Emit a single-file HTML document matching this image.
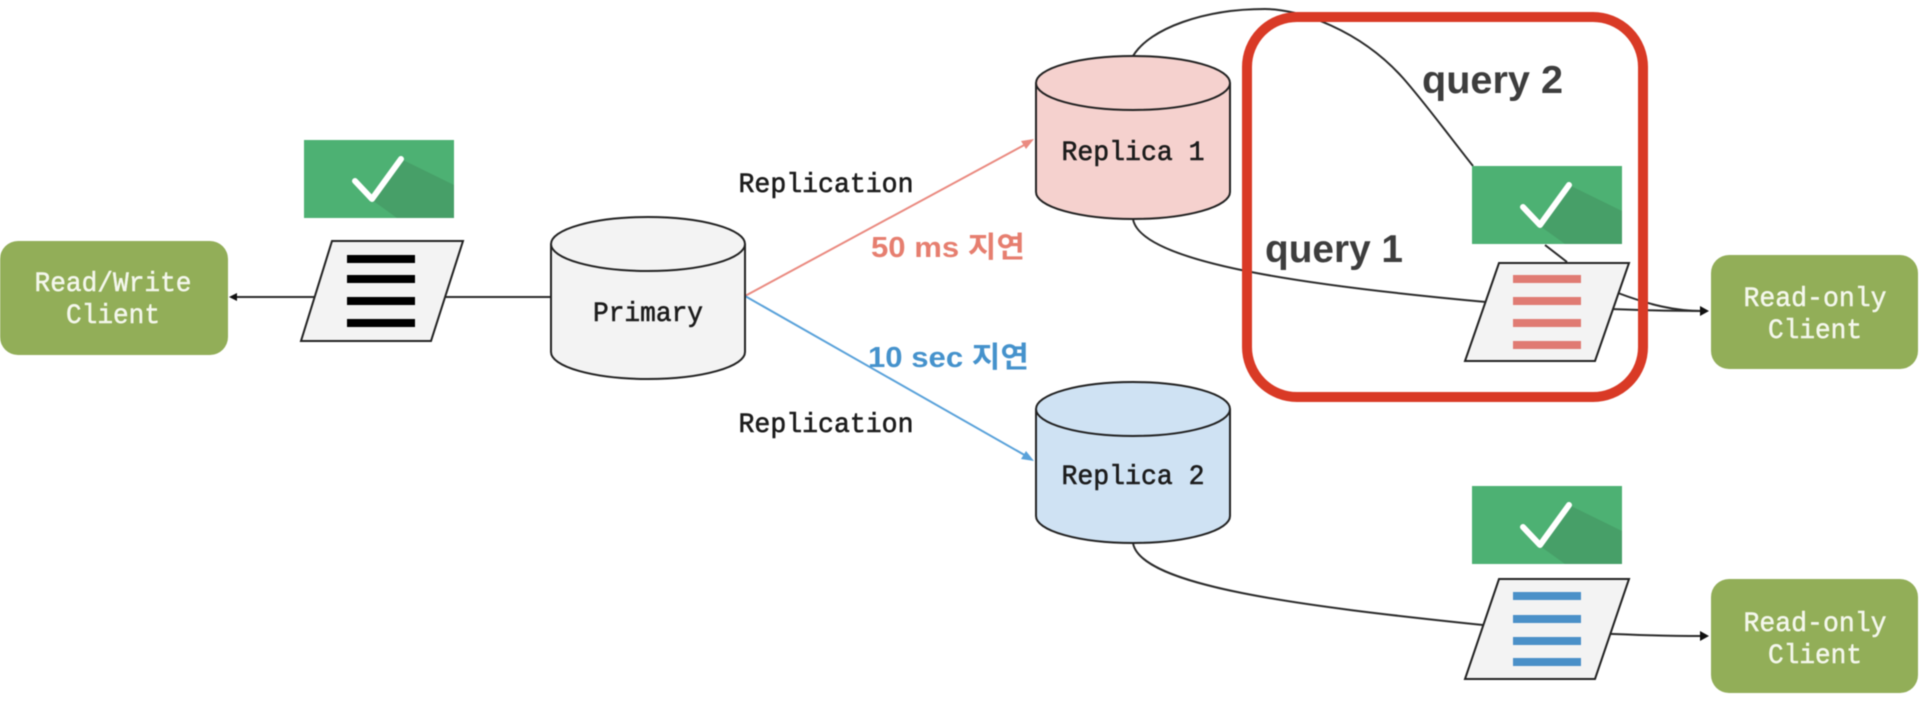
<!DOCTYPE html>
<html>
<head>
<meta charset="utf-8">
<style>
html,body{margin:0;padding:0;background:#fff;width:1922px;height:720px;overflow:hidden}
svg{display:block;filter:blur(0.5px)}
.m{font-family:"Liberation Mono",monospace;font-size:28px}
.w{fill:#f4f7ec;stroke:#f4f7ec;stroke-width:.5;text-anchor:middle}
.k{fill:#1c1c1c;stroke:#1c1c1c;stroke-width:.6;text-anchor:middle}
.s{font-family:"Liberation Sans","Noto Sans CJK KR",sans-serif;font-weight:bold}
.c{fill:none;stroke:#2b2b2b;stroke-width:2}
</style>
</head>
<body>
<svg width="1922" height="720" viewBox="0 0 1922 720" xmlns="http://www.w3.org/2000/svg">
  <defs>
    <g id="ok">
      <rect width="150" height="78" fill="#4db173"/>
      <polygon points="97,19 150,45 150,78 93,78 68,60" fill="#479f68"/>
      <polyline points="51,41 68,59 97,19" fill="none" stroke="#fff" stroke-width="6" stroke-linecap="round" stroke-linejoin="round"/>
    </g>
  </defs>

  <!-- connectors -->
  <path d="M551 297H236" class="c"/>
  <polygon points="229,297 237,293 237,301" fill="#111"/>
  <path d="M745 296L1028 143" fill="none" stroke="#ea8a80" stroke-width="2"/>
  <polygon points="1034,139 1026,149 1021,141" fill="#ea8a80"/>
  <path d="M745 296L1028 457" fill="none" stroke="#5aa2da" stroke-width="2"/>
  <polygon points="1034,461 1021,459 1026,451" fill="#5aa2da"/>

  <path d="M1133 56C1150 28 1205 9 1265 9C1300 9 1360 30 1403 78C1425 103 1450 137 1473 166" class="c"/>
  <path d="M1545 245L1567 262" class="c"/>
  <path d="M1618 293C1650 305 1675 311 1702 311" class="c"/>
  <path d="M1133 219C1140 262 1300 285 1486 302C1550 307 1640 311 1702 311" class="c"/>
  <polygon points="1709,311 1700,306 1700,316" fill="#111"/>
  <path d="M1133 543C1140 586 1300 606 1483 625C1550 632 1640 636 1702 636" class="c"/>
  <polygon points="1709,636 1700,631 1700,641" fill="#111"/>

  <!-- clients -->
  <rect x="0" y="241" width="228" height="114" rx="18" fill="#92ae58"/>
  <rect x="1711" y="255" width="207" height="114" rx="18" fill="#92ae58"/>
  <rect x="1711" y="579" width="207" height="114" rx="18" fill="#92ae58"/>
  <text class="m w" x="113" y="291" textLength="157" lengthAdjust="spacingAndGlyphs">Read/Write</text>
  <text class="m w" x="113" y="323" textLength="94" lengthAdjust="spacingAndGlyphs">Client</text>
  <text class="m w" x="1815" y="306" textLength="143" lengthAdjust="spacingAndGlyphs">Read-only</text>
  <text class="m w" x="1815" y="338" textLength="94" lengthAdjust="spacingAndGlyphs">Client</text>
  <text class="m w" x="1815" y="631" textLength="143" lengthAdjust="spacingAndGlyphs">Read-only</text>
  <text class="m w" x="1815" y="663" textLength="94" lengthAdjust="spacingAndGlyphs">Client</text>

  <!-- cylinders -->
  <path d="M551 244A97 27 0 0 1 745 244V352A97 27 0 0 1 551 352Z" fill="#f3f3f3" stroke="#222" stroke-width="2"/>
  <path d="M551 244A97 27 0 0 0 745 244" fill="none" stroke="#222" stroke-width="2"/>
  <text class="m k" x="648" y="321" textLength="110" lengthAdjust="spacingAndGlyphs">Primary</text>

  <path d="M1036 83A97 27 0 0 1 1230 83V192A97 27 0 0 1 1036 192Z" fill="#f5d1ce" stroke="#222" stroke-width="2"/>
  <path d="M1036 83A97 27 0 0 0 1230 83" fill="none" stroke="#222" stroke-width="2"/>
  <text class="m k" x="1133" y="160" textLength="143" lengthAdjust="spacingAndGlyphs">Replica 1</text>

  <path d="M1036 409A97 27 0 0 1 1230 409V516A97 27 0 0 1 1036 516Z" fill="#cfe2f3" stroke="#222" stroke-width="2"/>
  <path d="M1036 409A97 27 0 0 0 1230 409" fill="none" stroke="#222" stroke-width="2"/>
  <text class="m k" x="1133" y="484" textLength="143" lengthAdjust="spacingAndGlyphs">Replica 2</text>

  <!-- green check boxes -->
  <use href="#ok" x="304" y="140"/>
  <use href="#ok" x="1472" y="166"/>
  <use href="#ok" x="1472" y="486"/>

  <!-- papers -->
  <polygon points="332,241 463,241 431,341 301,341" fill="#f3f3f3" stroke="#222" stroke-width="2"/>
  <g fill="#000">
    <rect x="347" y="255" width="68" height="8"/>
    <rect x="347" y="275" width="68" height="8"/>
    <rect x="347" y="297" width="68" height="8"/>
    <rect x="347" y="319" width="68" height="8"/>
  </g>

  <polygon points="1499,263 1629,263 1595,361 1465,361" fill="#f3f3f3" stroke="#222" stroke-width="2"/>
  <g fill="#e07b73">
    <rect x="1513" y="275" width="68" height="8"/>
    <rect x="1513" y="297" width="68" height="8"/>
    <rect x="1513" y="319" width="68" height="8"/>
    <rect x="1513" y="341" width="68" height="8"/>
  </g>

  <polygon points="1499,579 1629,579 1595,679 1465,679" fill="#f3f3f3" stroke="#222" stroke-width="2"/>
  <g fill="#4a90c8">
    <rect x="1513" y="592" width="68" height="8"/>
    <rect x="1513" y="615" width="68" height="8"/>
    <rect x="1513" y="637" width="68" height="8"/>
    <rect x="1513" y="658" width="68" height="8"/>
  </g>

  <!-- red highlight -->
  <rect x="1247" y="17" width="396" height="380" rx="50" fill="none" stroke="#d93a26" stroke-width="10"/>

  <!-- labels -->
  <text class="m k" x="826" y="192" textLength="175" lengthAdjust="spacingAndGlyphs">Replication</text>
  <text class="m k" x="826" y="432" textLength="175" lengthAdjust="spacingAndGlyphs">Replication</text>
  <text class="s" x="871" y="257" font-size="29" fill="#e67e6f" textLength="154" lengthAdjust="spacingAndGlyphs">50 ms 지연</text>
  <text class="s" x="868" y="367" font-size="29" fill="#4592cc" textLength="161" lengthAdjust="spacingAndGlyphs">10 sec 지연</text>
  <text class="s" x="1422" y="93" font-size="39" fill="#3d3d3d" textLength="141" lengthAdjust="spacingAndGlyphs">query 2</text>
  <text class="s" x="1265" y="262" font-size="39" fill="#3d3d3d" textLength="138" lengthAdjust="spacingAndGlyphs">query 1</text>
</svg>
</body>
</html>
